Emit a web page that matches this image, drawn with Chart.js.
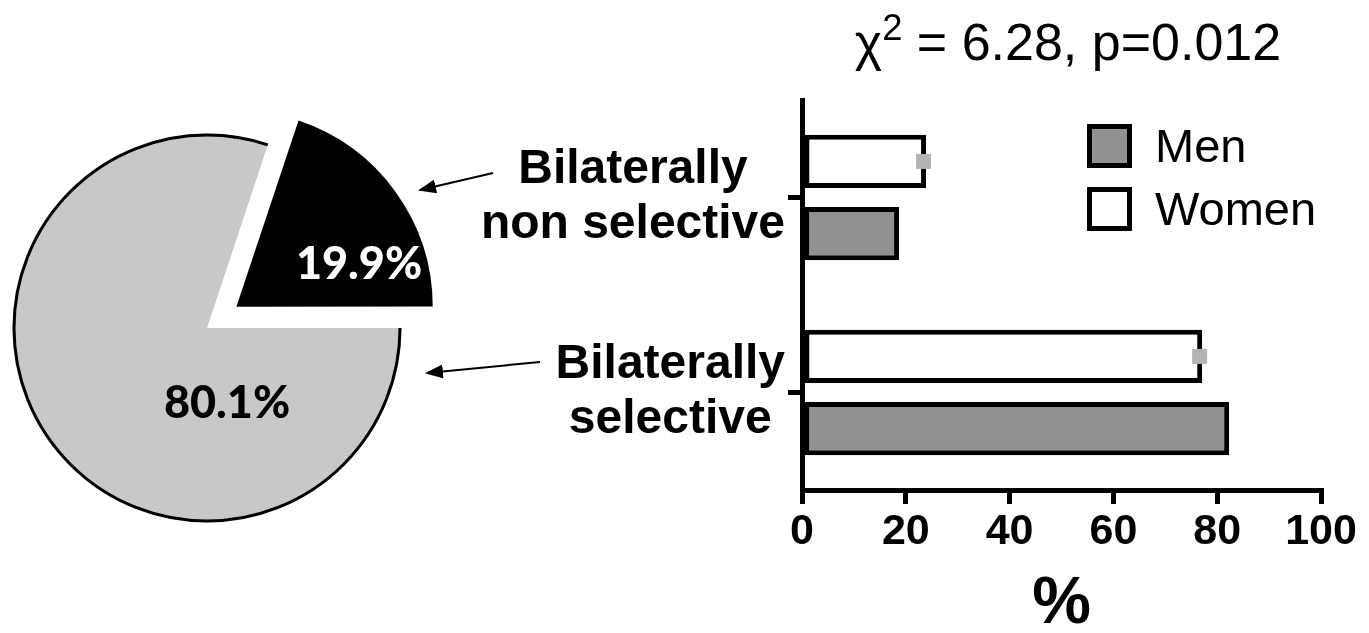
<!DOCTYPE html>
<html>
<head>
<meta charset="utf-8">
<script src="https://cdn.jsdelivr.net/npm/chart.js@4/dist/chart.umd.min.js"></script>
<style>
  body {
    margin: 0;
    width: 1369px;
    height: 633px;
    position: relative;
    overflow: hidden;
    background: #fff;
    font-family: "Liberation Sans", Arial, sans-serif;
  }
  #pieWrap {
    position: absolute;
    left: -60px;
    top: 61px;
    width: 534px;
    height: 534px;
  }
  #barWrap {
    position: absolute;
    left: 460px;
    top: 0;
    width: 909px;
    height: 633px;
  }
  .pie-label {
    position: absolute;
    font-family: Lato, "Noto Sans", sans-serif;
    font-weight: 900;
    font-size: 45px;
    line-height: 45px;
    transform: translate(-50%, -50%);
    white-space: nowrap;
  }
  #arrows {
    position: absolute;
    left: 0;
    top: 0;
    pointer-events: none;
  }
  #statTitle {
    position: absolute;
    left: 800px;
    top: 16px;
    width: 536px;
    text-align: center;
    font-size: 52px;
    line-height: 52px;
    color: #000;
  }
  #statTitle .sup {
    font-size: 0.7em;
    position: relative;
    top: -0.55em;
  }
  #legend {
    position: absolute;
    left: 1087px;
    top: 114px;
  }
  .legend-item {
    display: flex;
    align-items: center;
    height: 63px;
  }
  .legend-box {
    width: 35px;
    height: 34px;
    border: 5px solid #000;
    margin-right: 23px;
  }
  .legend-text {
    font-size: 47px;
    line-height: 47px;
  }
</style>
</head>
<body>
<div id="pieWrap"><canvas id="pieChart"></canvas></div>
<div id="barWrap"><canvas id="barChart"></canvas></div>
<div class="pie-label" id="pieLabel0" style="left:359px; top:262px; color:#fff"></div>
<div class="pie-label" id="pieLabel1" style="left:227px; top:401px; color:#000"></div>
<svg id="arrows" width="1369" height="633">
  <defs>
    <marker id="head" markerWidth="9" markerHeight="7" refX="8" refY="3.5" orient="auto" markerUnits="strokeWidth">
      <path d="M0,0 L9,3.5 L0,7 Z" fill="#000"></path>
    </marker>
  </defs>
  <line x1="493" y1="173" x2="420" y2="190" stroke="#000" stroke-width="2" marker-end="url(#head)"></line>
  <line x1="540" y1="362" x2="427" y2="373" stroke="#000" stroke-width="2" marker-end="url(#head)"></line>
</svg>
<div id="statTitle">χ<span class="sup">2</span> = 6.28, p=0.012</div>
<div id="legend"></div>

<script>
// Pie: overall share of the two patterns
const pieLabels = ["Bilaterally non selective", "Bilaterally selective"]
const pieValues = [19.9, 80.1]

// Bars: share by sex
const categories = [["Bilaterally", "non selective"], ["Bilaterally", "selective"]]
const womenValues = [23.9, 77.1]
const menValues = [18.7, 82.3]
const xTicks = [0, 20, 40, 60, 80, 100]

const labelFont = '"Liberation Sans", Arial, sans-serif'

// Draw only the outer rim of a slice (no lines on the cut edges)
const outerArcPlugin = {
  id: "outerArc",
  afterDatasetsDraw(chart, args, opts) {
    const ctx = chart.ctx
    const meta = chart.getDatasetMeta(0)
    ctx.save()
    ctx.strokeStyle = opts.color
    ctx.lineWidth = opts.width
    opts.indexes.forEach((i) => {
      const arc = meta.data[i]
      ctx.beginPath()
      ctx.arc(arc.x, arc.y, arc.outerRadius - opts.width / 2, arc.startAngle, arc.endAngle)
      ctx.stroke()
    })
    ctx.restore()
  },
}

new Chart(document.getElementById("pieChart"), {
  type: "pie",
  data: {
    labels: pieLabels,
    datasets: [
      {
        data: pieValues,
        backgroundColor: ["#000000", "#c8c8c8"],
        borderWidth: 0,
        offset: [145, 0],
        hoverOffset: 0,
      },
    ],
  },
  options: {
    responsive: true,
    maintainAspectRatio: false,
    animation: false,
    events: [],
    rotation: 90 - (pieValues[0] / 100) * 360,
    plugins: {
      legend: { display: false },
      tooltip: { enabled: false },
      outerArc: { indexes: [1], color: "#000", width: 3 },
    },
  },
  plugins: [outerArcPlugin],
})

pieValues.forEach((v, i) => {
  document.getElementById(`pieLabel${i}`).textContent = `${v}%`
})

// Category labels: each block right-aligned to the axis, lines centered in the block
const categoryLabelPlugin = {
  id: "categoryLabels",
  afterDraw(chart) {
    const scale = chart.scales.y
    const ctx = chart.ctx
    ctx.save()
    ctx.font = `bold 48px ${labelFont}`
    ctx.fillStyle = "#000"
    ctx.textAlign = "center"
    ctx.textBaseline = "middle"
    const lineHeight = 55
    categories.forEach((lines, i) => {
      const y = scale.getPixelForTick(i)
      const w = Math.max(...lines.map((l) => ctx.measureText(l).width))
      const cx = scale.right - 17 - w / 2
      lines.forEach((line, j) => {
        ctx.fillText(line, cx, y + (j - (lines.length - 1) / 2) * lineHeight)
      })
    })
    ctx.restore()
  },
}

// Small grey marker at the end of each Women bar
const barEndMarkerPlugin = {
  id: "barEndMarker",
  afterDatasetsDraw(chart, args, opts) {
    const ctx = chart.ctx
    const meta = chart.getDatasetMeta(opts.datasetIndex)
    ctx.save()
    ctx.fillStyle = opts.color
    meta.data.forEach((bar) => {
      const s = opts.size
      ctx.fillRect(bar.x - 2.5 - s / 2, bar.y - s / 2, s, s)
    })
    ctx.restore()
  },
}

const barChart = new Chart(document.getElementById("barChart"), {
  type: "bar",
  data: {
    labels: categories,
    datasets: [
      {
        label: "Women",
        data: womenValues,
        backgroundColor: "#ffffff",
        borderColor: "#000000",
        borderWidth: 5,
        borderSkipped: false,
        barPercentage: 0.74,
        categoryPercentage: 0.74,
      },
      {
        label: "Men",
        data: menValues,
        backgroundColor: "#919191",
        borderColor: "#000000",
        borderWidth: 5,
        borderSkipped: false,
        barPercentage: 0.74,
        categoryPercentage: 0.74,
      },
    ],
  },
  options: {
    indexAxis: "y",
    responsive: true,
    maintainAspectRatio: false,
    animation: false,
    events: [],
    layout: {
      padding: { top: 100, right: 48, left: 0, bottom: 0 },
    },
    plugins: {
      legend: { display: false },
      tooltip: { enabled: false },
      barEndMarker: { datasetIndex: 0, color: "#b4b4b4", size: 15 },
    },
    scales: {
      x: {
        min: xTicks[0],
        max: xTicks[xTicks.length - 1],
        afterBuildTicks: (scale) => {
          scale.ticks = xTicks.map((v) => ({ value: v }))
        },
        afterFit: (scale) => {
          scale.height = 143
        },
        ticks: {
          color: "#000",
          padding: 2,
          font: { family: labelFont, size: 43, weight: "bold" },
        },
        grid: {
          drawOnChartArea: false,
          tickLength: 14,
          lineWidth: 5,
          color: "#000",
        },
        border: { color: "#000", width: 5 },
        title: {
          display: true,
          text: "%",
          color: "#000",
          padding: 0,
          font: { family: labelFont, size: 66, weight: "bold", lineHeight: 0.85 },
        },
      },
      y: {
        afterFit: (scale) => {
          scale.width = 342
        },
        ticks: { display: false },
        grid: {
          offset: false,
          drawOnChartArea: false,
          tickLength: 14,
          lineWidth: 5,
          color: "#000",
        },
        border: { color: "#000", width: 5 },
      },
    },
  },
  plugins: [categoryLabelPlugin, barEndMarkerPlugin],
})

// Legend built from the datasets, Men first
const legendEl = document.getElementById("legend")
barChart.data.datasets
  .slice()
  .reverse()
  .forEach((ds) => {
    const item = document.createElement("div")
    item.className = "legend-item"
    item.innerHTML = `<div class="legend-box" style="background:${ds.backgroundColor}"></div><span class="legend-text">${ds.label}</span>`
    legendEl.appendChild(item)
  })
</script>
</body>
</html>
